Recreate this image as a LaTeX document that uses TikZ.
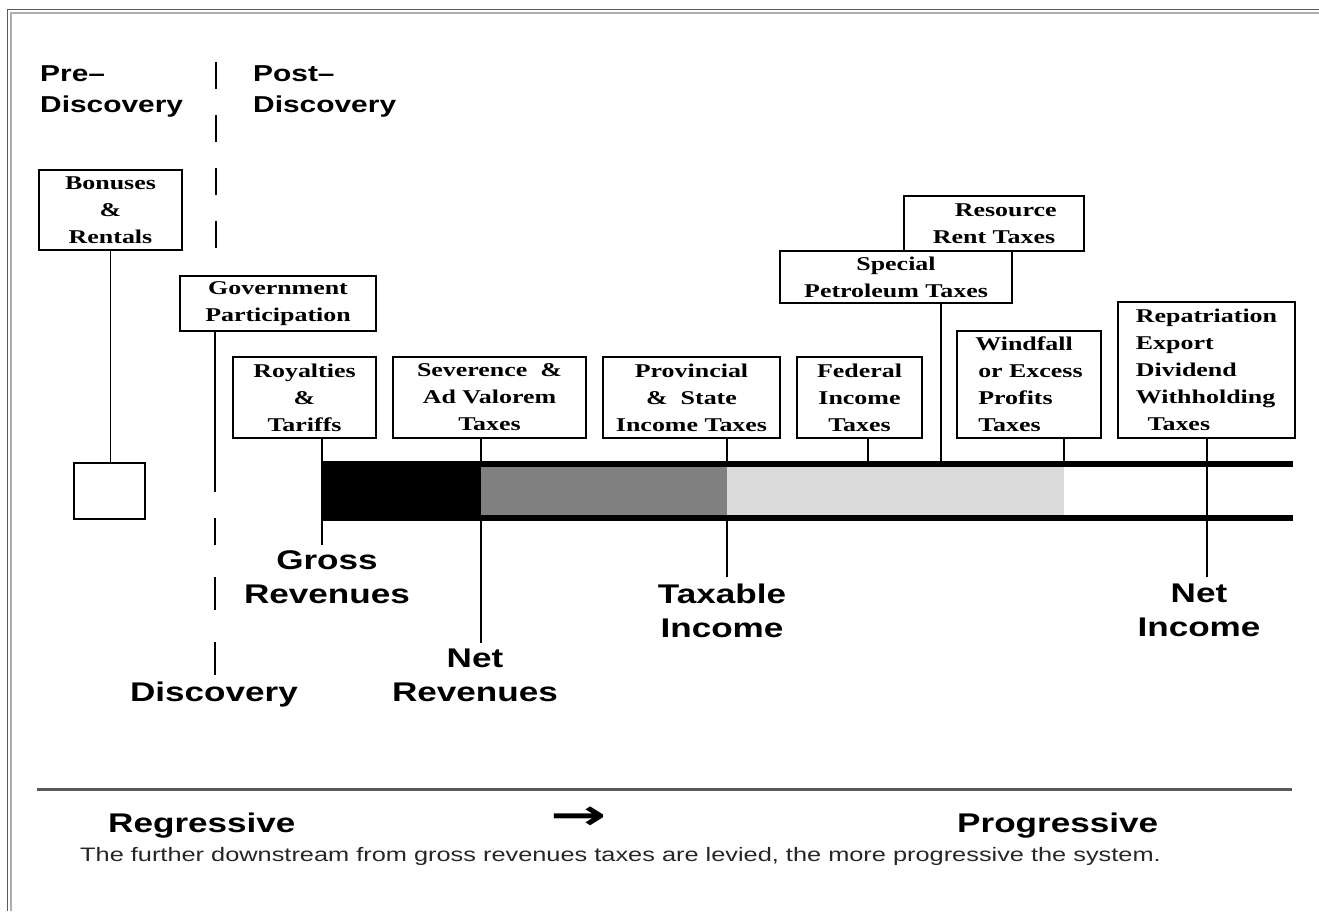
\documentclass[tikz,border=0pt]{standalone}
\usepackage{fontspec}
\setmainfont{Liberation Serif}[FakeStretch=1.33]
\newfontfamily\hv{Liberation Sans}[FakeStretch=1.3]
\newfontfamily\capfont{Liberation Sans}[FakeStretch=1.3]
\newfontfamily\arrfont{DejaVu Sans}[FakeStretch=1.6]
\definecolor{darkstip}{gray}{0.50}
\definecolor{lightstip}{gray}{0.86}
\definecolor{borderdark}{gray}{0.35}
\definecolor{borderlight}{gray}{0.68}
\tikzset{
  taxbox/.style={draw, line width=1.4pt, fill=white, inner sep=0pt, align=center,
    font=\fontsize{19.5}{27}\selectfont\bfseries},
  biglabel/.style={inner sep=0pt, align=center, font=\hv\fontsize{27}{34}\selectfont\bfseries},
  toplabel/.style={inner sep=0pt, align=left, anchor=north west, font=\hv\fontsize{23}{31}\selectfont\bfseries},
  conn/.style={line width=1.3pt},
  barline/.style={line width=5.5pt},
}
\begin{document}
\begin{tikzpicture}[x=1pt,y=-1pt]
\useasboundingbox (0,0) rectangle (1319,911);
\fill[white] (0,0) rectangle (1319,911);
% frame
\draw[borderdark, line width=1.2pt] (7.5,911) -- (7.5,9.5) -- (1319,9.5);
\draw[borderlight, line width=1.6pt] (11,911) -- (11,13) -- (1319,13);

% header labels
\node[toplabel] (pre) at (40,65) {Pre–\\Discovery};
\node[toplabel] (post) at (253,65) {Post–\\Discovery};

% named coordinates for free ends
\coordinate (gpend) at (215,492);
\coordinate (grossend) at (322,545);
\coordinate (netrevend) at (481,643);
\coordinate (taxend) at (727,577);
\coordinate (netincend) at (1207,577);
\coordinate (bartopfed) at (868,463);
\coordinate (bartopspec) at (941,463);
\coordinate (bartopwind) at (1064,463);
\coordinate (barL) at (322,464);
\coordinate (barR) at (1293,464);
\coordinate (barLb) at (322,518);
\coordinate (barRb) at (1293,518);

% discovery dashed divider
\draw[line width=1.6pt, dash pattern=on 27pt off 26pt] (216,62) -- (216,250);
\draw[line width=1.6pt] (215,518) -- (215,545);
\draw[line width=1.6pt] (215,577) -- (215,610);
\draw[line width=1.6pt] (215,642) -- (215,675);

% boxes
\node[taxbox, minimum width=143pt, minimum height=80pt] (bon) at (110.5,210) {Bonuses\\\&\\Rentals};
\node[draw, line width=1.4pt, minimum width=71pt, minimum height=56pt, inner sep=0pt] (sq) at (109.5,491) {};
\node[taxbox, minimum width=196pt, minimum height=55pt] (gov) at (278,303.5) {Government\\Participation};
\node[taxbox, minimum width=143pt, minimum height=81pt] (roy) at (304.5,397.5) {Royalties\\\&\\Tariffs};
\node[taxbox, minimum width=193pt, minimum height=81pt] (sev) at (489.5,397.5) {Severence~~\&\\Ad Valorem\\Taxes};
\node[taxbox, minimum width=177pt, minimum height=81pt] (prov) at (691.5,397.5) {Provincial\\\&~~State\\Income Taxes};
\node[taxbox, minimum width=125pt, minimum height=81pt] (fed) at (859.5,397.5) {Federal\\Income\\Taxes};
\node[taxbox, minimum width=232pt, minimum height=52pt] (spec) at (896,277) {Special\\Petroleum Taxes};
\node[taxbox, minimum width=180pt, minimum height=55pt] (res) at (994,223.5) {\hspace*{1.2em}Resource\\Rent Taxes};
\node[taxbox, minimum width=144pt, minimum height=107pt, align=left] (wind) at (1029,384.5) {Windfall\\\hspace*{0.15em}or Excess\\\hspace*{0.15em}Profits\\\hspace*{0.15em}Taxes};
\node[taxbox, minimum width=177pt, minimum height=136pt, align=left] (rep) at (1206.5,370) {Repatriation\\Export\\Dividend\\Withholding\\\hspace*{0.6em}Taxes};

% connectors
\draw[conn] (bon.south) -- (bon.south |- sq.north);
\draw[conn] (gov.south -| gpend) -- (gpend);
\draw[conn] (roy.south -| grossend) -- (grossend);
\draw[conn] (sev.south -| netrevend) -- (netrevend);
\draw[conn] (prov.south -| taxend) -- (taxend);
\draw[conn] (fed.south -| bartopfed) -- (bartopfed);
\draw[conn] (spec.south -| bartopspec) -- (bartopspec);
\draw[conn] (wind.south -| bartopwind) -- (bartopwind);
\draw[conn] (rep.south -| netincend) -- (netincend);

% bar
\fill[black] (322,462) rectangle (481,520);
\fill[darkstip] (481,464) rectangle (727,518);
\fill[lightstip] (727,464) rectangle (1064,518);
\draw[barline] (barL) -- (barR);
\draw[barline] (barLb) -- (barRb);

% big labels
\node[biglabel] (gross) at (327,577.5) {Gross\\Revenues};
\node[biglabel] (netrev) at (475,675.5) {Net\\Revenues};
\node[biglabel] (disc) at (214,695) {Discovery};
\node[biglabel] (taxinc) at (722,610.5) {Taxable\\Income};
\node[biglabel] (netinc) at (1199,610.5) {Net\\Income};

% bottom
\draw[borderdark, line width=3pt] (37,789) -- (1292,789);
\node[inner sep=0pt, anchor=north west, font=\hv\fontsize{27}{30}\selectfont\bfseries] (regr) at (108,813) {Regressive};
\node[inner sep=0pt, anchor=north west, font=\hv\fontsize{27}{30}\selectfont\bfseries] (progr) at (957,813) {Progressive};
\node[inner sep=0pt, font=\arrfont\fontsize{42}{42}\selectfont\bfseries] (arr) at (579,818) {→};
\node[inner sep=0pt, anchor=north west, font=\capfont\fontsize{19.5}{22}\selectfont, text=black!85] (cap) at (80,847) {The further downstream from gross revenues taxes are levied, the more progressive the system.};
\end{tikzpicture}
\end{document}
